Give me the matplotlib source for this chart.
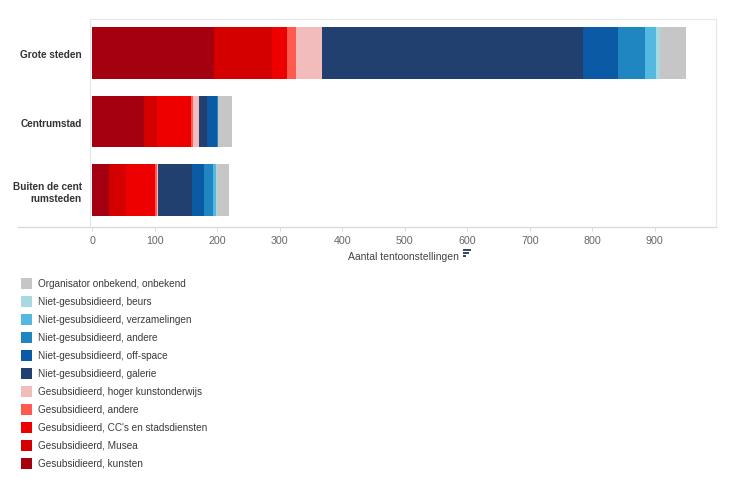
import matplotlib
matplotlib.use("Agg")
import matplotlib.pyplot as plt
from matplotlib.patches import Rectangle
from matplotlib.lines import Line2D
import numpy as np

plt.rcParams["font.family"] = ["Liberation Sans", "DejaVu Sans"]

categories = ["Grote steden", "Centrumstad", "Buiten de cent\nrumsteden"]

series = [
    "Gesubsidieerd, kunsten",
    "Gesubsidieerd, Musea",
    "Gesubsidieerd, CC's en stadsdiensten",
    "Gesubsidieerd, andere",
    "Gesubsidieerd, hoger kunstonderwijs",
    "Niet-gesubsidieerd, galerie",
    "Niet-gesubsidieerd, off-space",
    "Niet-gesubsidieerd, andere",
    "Niet-gesubsidieerd, verzamelingen",
    "Niet-gesubsidieerd, beurs",
    "Organisator onbekend, onbekend",
]

# values per category: Grote steden, Centrumstad, Buiten de centrumsteden
kunsten = [195, 83, 27]
musea = [92, 20, 26]
cc_stad = [24, 55, 47]
gesub_andere = [14, 3, 3]
hoger_onderwijs = [42, 9, 2]
galerie = [418, 14, 55]
off_space = [56, 16, 19]
niet_andere = [43, 1, 14]
verzamelingen = [18, 0.5, 4]
beurs = [6, 0, 3]
onbekend = [42, 21, 18]

values = [kunsten, musea, cc_stad, gesub_andere, hoger_onderwijs, galerie,
          off_space, niet_andere, verzamelingen, beurs, onbekend]

colors = ["#a5000f", "#d40000", "#ee0000", "#ff5a50", "#f2bcbc", "#213f6f",
          "#0a5aa5", "#1f86c2", "#55b8e0", "#a8d8e0", "#c6c6c6"]

fig = plt.figure(figsize=(7.34, 4.85), dpi=100)
ax = fig.add_axes([90 / 734, 1 - 228 / 485, 626 / 734, 208 / 485])

y = np.arange(len(categories))
left = np.zeros(len(categories))
for vals, col, name in zip(values, colors, series):
    ax.barh(y, vals, left=left, height=0.755, color=col, label=name, linewidth=0)
    left += np.array(vals)

ax.set_xlim(-4, 998)
ax.set_ylim(2.54, -0.5)
ax.set_xticks(range(0, 1000, 100))
ax.tick_params(axis="x", colors="#dddddd", length=3, labelcolor="#666666",
               labelsize=7.7, pad=3)
ax.set_yticks(y)
ax.set_yticklabels(categories, fontsize=7.2, fontweight="bold", color="#333333")
ax.tick_params(axis="y", length=0, pad=6)

for s in ["top", "right", "left"]:
    ax.spines[s].set_color("#e6e6e6")
    ax.spines[s].set_linewidth(0.8)
ax.spines["bottom"].set_visible(False)

# bottom axis line extends under category labels
fig.add_artist(Line2D([18 / 734, 716 / 734], [1 - 228 / 485, 1 - 228 / 485],
                      color="#d8d8d8", linewidth=0.9))

ax.set_xlabel("Aantal tentoonstellingen", fontsize=7.5, color="#444444", labelpad=4)

# small sort icon next to axis title
ix, iy = 463 / 734, 1 - 252 / 485
for k, w in enumerate([8, 6, 3]):
    fig.add_artist(Rectangle((ix, iy - k * 3 / 485), w / 734, 2 / 485,
                             transform=fig.transFigure, color="#3a4a66", linewidth=0))

# legend, top entry first
for i, (name, col) in enumerate(zip(series[::-1], colors[::-1])):
    yc = 1 - (284 + i * 18) / 485
    fig.add_artist(Rectangle((21 / 734, yc - 5.5 / 485), 11 / 734, 11 / 485,
                             transform=fig.transFigure, color=col, linewidth=0))
    fig.text(38 / 734, yc, name, fontsize=7.2, color="#3a3a3a", va="center")

fig.savefig("out.png", dpi=100)
